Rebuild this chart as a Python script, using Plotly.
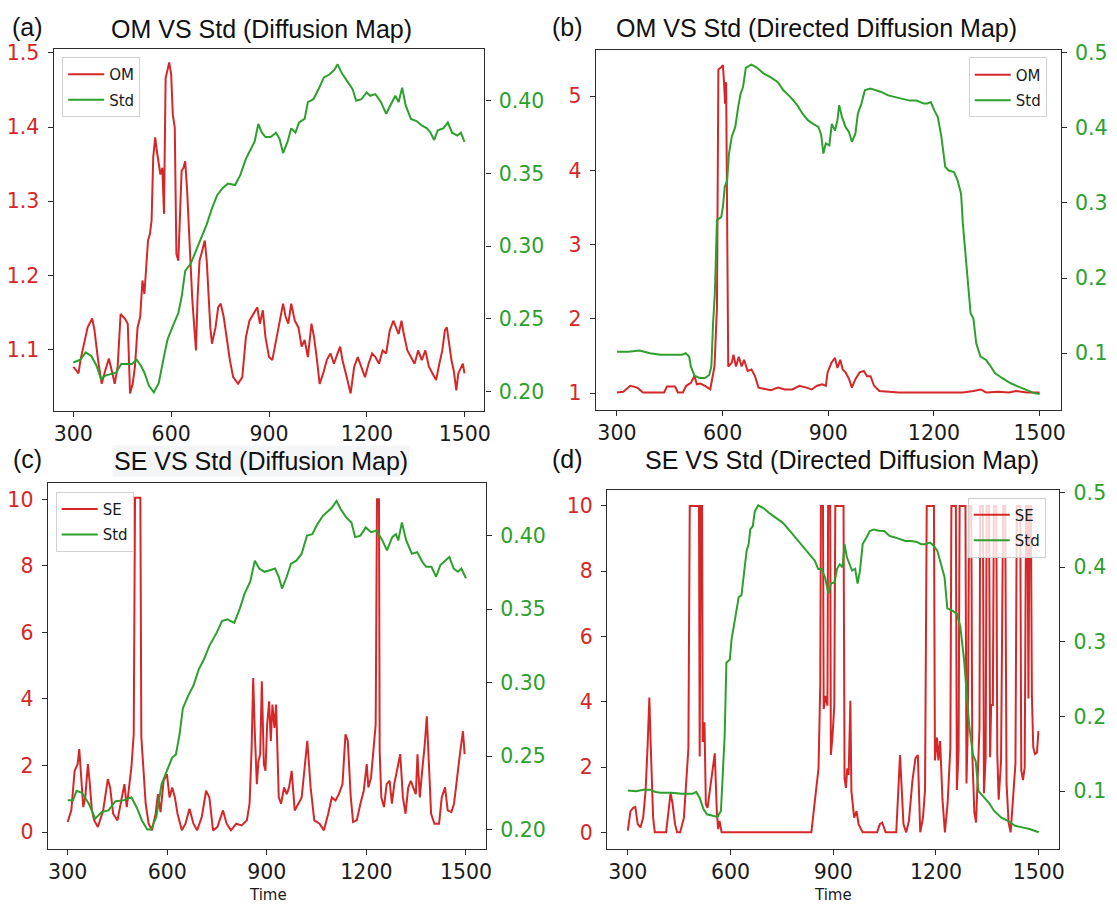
import plotly.graph_objects as go

# ---------------- data ----------------
# (a) OM vs Std, Diffusion Map
a_om_t = [300,316,322,344,358,365,376,387,398,409,420,427,436,445,458,467,474,482,489,497,505,512,518,523,529,535,540,545,551,556,562,567,573,578,583,589,594,600,605,611,616,622,627,632,638,643,649,654,660,665,671,676,681,687,695,703,709,714,720,725,736,744,752,761,769,780,790,805,818,829,840,853,864,872,881,889,900,910,921,932,943,951,959,968,979,990,1000,1009,1019,1030,1038,1047,1055,1066,1077,1088,1099,1110,1118,1125,1134,1143,1150,1161,1172,1183,1194,1205,1216,1226,1237,1248,1259,1270,1281,1289,1297,1306,1313,1324,1335,1346,1357,1368,1379,1390,1401,1412,1422,1431,1439,1445,1452,1459,1466,1474,1480,1488,1494,1499]
a_om = [1.077,1.068,1.086,1.13,1.142,1.126,1.086,1.054,1.072,1.088,1.068,1.054,1.077,1.148,1.142,1.135,1.041,1.054,1.077,1.13,1.144,1.193,1.175,1.207,1.247,1.256,1.274,1.359,1.386,1.368,1.35,1.336,1.345,1.283,1.466,1.478,1.487,1.471,1.417,1.399,1.229,1.22,1.283,1.341,1.345,1.354,1.314,1.274,1.211,1.166,1.13,1.099,1.171,1.22,1.233,1.247,1.22,1.175,1.13,1.108,1.13,1.157,1.162,1.144,1.117,1.086,1.063,1.054,1.063,1.117,1.139,1.148,1.157,1.135,1.153,1.117,1.09,1.086,1.113,1.139,1.162,1.144,1.135,1.162,1.139,1.13,1.104,1.113,1.09,1.135,1.117,1.086,1.054,1.068,1.086,1.095,1.081,1.095,1.104,1.086,1.068,1.054,1.041,1.077,1.09,1.077,1.063,1.081,1.095,1.09,1.081,1.099,1.095,1.126,1.139,1.13,1.121,1.139,1.121,1.099,1.09,1.081,1.099,1.086,1.099,1.077,1.068,1.059,1.081,1.099,1.126,1.13,1.108,1.086,1.072,1.045,1.068,1.077,1.081,1.068]
a_std_t = [300,322,338,355,371,385,398,414,431,447,464,480,494,507,518,532,547,562,576,589,605,622,632,643,660,676,692,709,725,741,758,774,796,812,829,845,856,867,878,889,905,921,932,943,957,968,981,992,1009,1019,1036,1052,1068,1085,1101,1110,1123,1139,1156,1167,1183,1199,1210,1226,1243,1259,1276,1287,1297,1308,1319,1335,1352,1368,1384,1395,1406,1417,1434,1448,1461,1477,1488,1499]
a_std = [0.22,0.222,0.227,0.2245,0.218,0.2086,0.211,0.212,0.213,0.219,0.219,0.219,0.222,0.218,0.213,0.204,0.1995,0.206,0.222,0.236,0.245,0.254,0.265,0.283,0.288,0.297,0.306,0.315,0.326,0.335,0.34,0.343,0.342,0.349,0.36,0.367,0.372,0.384,0.378,0.375,0.375,0.378,0.374,0.364,0.372,0.381,0.378,0.385,0.3875,0.399,0.401,0.408,0.416,0.418,0.4215,0.425,0.419,0.4136,0.408,0.40,0.401,0.4057,0.4034,0.4045,0.399,0.391,0.399,0.4034,0.399,0.409,0.3966,0.3875,0.386,0.383,0.381,0.378,0.373,0.3796,0.381,0.385,0.378,0.376,0.378,0.3717]

# (b) OM vs Std, Directed Diffusion Map
b_om_t = [300,318,338,358,374,394,414,434,442,465,473,487,497,510,520,527,537,550,565,570,577,584,588,596,601,604,607,610,612,616,626,631,638,646,654,661,671,682,692,702,717,737,757,777,798,818,838,853,868,883,893,898,909,919,926,934,941,949,959,967,977,989,1001,1010,1020,1030,1045,1065,1100,1151,1232,1282,1312,1333,1348,1383,1413,1433,1464,1500]
b_om = [1.01,1.02,1.1,1.075,1.01,1.01,1.01,1.01,1.09,1.09,1.01,1.01,1.1,1.14,1.23,1.12,1.13,1.1,1.053,1.19,1.36,2.16,5.36,5.39,5.42,5.19,4.9,5.19,3.28,1.36,1.41,1.52,1.36,1.49,1.36,1.45,1.3,1.32,1.23,1.075,1.06,1.04,1.075,1.05,1.05,1.1,1.075,1.05,1.1,1.12,1.1,1.28,1.41,1.475,1.34,1.45,1.32,1.28,1.19,1.075,1.19,1.28,1.3,1.23,1.23,1.1,1.03,1.02,1.01,1.01,1.01,1.01,1.03,1.05,1.01,1.02,1.01,1.03,1.01,1.01]
b_std_t = [300,333,364,394,424,454,485,495,505,510,520,535,550,562,568,573,578,584,596,601,606,613,618,626,636,644,651,658,666,682,697,717,737,757,772,792,812,827,842,857,872,880,886,893,903,910,919,926,931,939,949,959,967,977,984,994,1004,1020,1035,1050,1070,1090,1110,1131,1151,1171,1181,1191,1201,1211,1221,1232,1242,1257,1267,1277,1282,1290,1297,1304,1312,1320,1332,1348,1358,1373,1393,1418,1438,1464,1484,1500]
b_std = [0.102,0.102,0.1035,0.1,0.098,0.098,0.098,0.1,0.0956,0.082,0.07,0.067,0.067,0.071,0.082,0.14,0.18,0.277,0.281,0.295,0.321,0.33,0.365,0.388,0.401,0.427,0.445,0.454,0.48,0.484,0.48,0.472,0.467,0.4606,0.45,0.441,0.43,0.4186,0.41,0.405,0.401,0.39,0.3655,0.379,0.3765,0.405,0.396,0.41,0.43,0.414,0.401,0.394,0.381,0.392,0.4186,0.432,0.45,0.452,0.45,0.4475,0.443,0.441,0.4385,0.436,0.436,0.432,0.432,0.434,0.423,0.414,0.388,0.348,0.343,0.341,0.33,0.312,0.2726,0.228,0.197,0.153,0.146,0.113,0.0956,0.091,0.0845,0.0735,0.067,0.06,0.0558,0.0513,0.0469,0.0456]

# (c) SE vs Std, Diffusion Map
c_se_t = [300,311,321,330,335,340,347,353,361,366,373,380,391,407,421,428,437,450,463,471,478,485,492,499,503,519,522,528,535,544,554,565,572,580,589,599,607,615,623,631,644,655,667,679,690,704,717,727,738,751,768,779,792,808,824,840,848,854,859,864,870,875,880,885,891,896,901,907,912,917,923,928,936,943,952,960,967,975,984,995,1005,1014,1022,1032,1043,1059,1072,1085,1096,1107,1117,1128,1137,1144,1153,1160,1171,1182,1192,1201,1206,1214,1221,1228,1232,1238,1240,1245,1253,1261,1270,1277,1284,1294,1302,1310,1318,1326,1334,1341,1349,1354,1361,1368,1376,1382,1387,1395,1405,1419,1427,1437,1445,1456,1464,1475,1483,1491,1496]
c_se = [0.3,0.65,1.84,2.04,2.49,1.84,0.75,1.04,2.04,1.54,0.65,0.35,0.15,0.65,1.59,1.34,0.55,0.35,1.04,1.44,0.75,1.44,1.94,2.94,10.05,10.05,2.84,1.94,0.85,0.25,0.05,0.55,1.14,0.6,1.54,1.74,1.04,1.34,1.04,0.55,0.05,0.25,0.7,0.25,0.05,0.45,1.24,1.04,0.05,0.15,0.65,0.25,0.05,0.25,0.2,0.35,0.85,2.44,4.63,2.94,1.44,2.14,2.34,4.53,2.04,1.84,3.23,3.93,2.74,3.83,3.13,3.83,1.04,0.85,1.34,1.14,1.34,1.84,0.65,0.85,1.04,1.94,2.74,1.34,0.35,0.25,0.05,0.55,1.04,0.95,1.14,1.44,2.94,2.74,1.04,0.3,0.35,0.85,1.24,2.04,1.34,1.64,2.44,3.23,10.0,10.0,2.44,1.04,0.75,1.44,1.54,0.85,1.44,1.94,2.34,1.04,0.55,1.34,1.54,1.34,1.14,2.34,1.04,1.84,2.64,3.48,2.24,0.55,0.25,0.25,1.04,1.34,0.65,0.6,0.85,1.84,2.44,3.03,2.34]
c_std_t = [300,316,327,343,364,383,402,423,444,466,492,508,524,540,551,567,583,599,615,626,637,647,663,679,695,711,727,749,765,781,802,818,834,850,864,877,893,909,925,936,946,960,973,989,1005,1021,1037,1053,1069,1085,1096,1110,1123,1139,1155,1166,1182,1198,1214,1230,1246,1262,1278,1289,1296,1307,1320,1337,1353,1369,1380,1396,1410,1423,1439,1450,1463,1476,1486,1500]
c_std = [0.22,0.22,0.2264,0.225,0.2175,0.2074,0.2119,0.213,0.2193,0.2197,0.222,0.215,0.206,0.2,0.2,0.2085,0.231,0.24,0.249,0.251,0.2645,0.2824,0.291,0.298,0.309,0.316,0.325,0.334,0.3418,0.343,0.3407,0.35,0.361,0.3687,0.383,0.3776,0.3754,0.3765,0.3776,0.372,0.364,0.372,0.381,0.383,0.3877,0.4,0.401,0.408,0.4135,0.4168,0.419,0.4236,0.418,0.4124,0.409,0.399,0.4,0.4056,0.4023,0.4034,0.3978,0.39,0.399,0.401,0.3967,0.409,0.3967,0.3877,0.3888,0.382,0.3788,0.3788,0.372,0.38,0.383,0.3855,0.3776,0.3754,0.3776,0.371]

# (d) SE vs Std, Directed Diffusion Map
d_se_t = [300,308,316,322,329,337,345,352,358,363,367,374,379,412,419,425,431,438,444,453,464,471,477,481,508,510,513,517,519,524,528,533,541,548,554,560,564,568,574,836,847,857,862,864,870,872,878,883,885,891,893,898,903,906,930,933,937,941,945,950,953,961,968,974,986,1028,1036,1043,1053,1084,1095,1105,1113,1121,1131,1140,1147,1154,1162,1168,1173,1194,1197,1203,1207,1212,1219,1226,1234,1242,1245,1258,1261,1266,1269,1286,1289,1293,1297,1303,1306,1312,1317,1323,1327,1329,1337,1340,1345,1348,1355,1358,1361,1366,1369,1376,1379,1383,1390,1396,1402,1406,1412,1418,1425,1432,1436,1446,1449,1454,1459,1463,1467,1470,1473,1477,1480,1484,1489,1495,1499]
d_se = [0.05,0.65,0.75,0.78,0.25,0.15,0.45,1.26,2.67,4.13,2.67,0.45,0,0,0.65,1.21,0.86,0.25,0,0,0.45,1.56,2.57,10,10,2.32,10,10,2.77,3.37,0.86,0.75,1.46,2.06,2.42,0.65,0.1,0.35,0,0,0.96,1.96,4.48,10,10,3.78,4.18,3.88,10,10,2.37,2.97,3.88,10,10,1.66,1.36,1.96,1.76,4.03,1.26,0.45,0.65,0.25,0,0,0.25,0.3,0,0,2.37,0.25,0,0.35,1.56,2.27,2.37,0,0.45,1.3,10,10,2.2,2.9,2.2,2.8,1.0,0,0.9,2.6,10,10,1.3,2.5,10,10,1.5,3.3,10,10,2.4,0.6,0.3,2.0,3.2,10,10,1.2,2.3,10,10,2.3,3.9,3.9,10,10,2.4,1.0,2.2,10,10,1.5,0.3,0,1.2,2.1,10,10,1.9,1.6,2.0,10,10,4.1,10,10,4.2,2.6,2.4,2.45,3.1]
d_std_t = [300,324,345,365,381,396,427,458,489,500,510,521,531,546,562,572,577,583,588,598,603,609,617,624,632,640,647,653,658,665,671,681,697,712,733,753,774,789,810,830,846,856,866,876,886,893,904,911,919,927,933,940,947,955,964,971,978,986,997,1007,1018,1033,1049,1064,1080,1095,1111,1126,1142,1157,1168,1183,1194,1204,1214,1225,1233,1245,1261,1271,1282,1289,1297,1308,1316,1324,1340,1354,1370,1390,1411,1431,1452,1473,1500]
d_std = [0.101,0.1,0.102,0.102,0.099,0.098,0.098,0.0965,0.0965,0.099,0.091,0.076,0.069,0.067,0.0656,0.0735,0.126,0.175,0.272,0.2764,0.303,0.32,0.338,0.36,0.3625,0.3955,0.422,0.431,0.451,0.455,0.475,0.483,0.479,0.473,0.466,0.4595,0.4485,0.44,0.4286,0.4176,0.4088,0.3978,0.3978,0.3867,0.3647,0.378,0.38,0.398,0.404,0.4,0.431,0.413,0.404,0.3955,0.398,0.378,0.3955,0.431,0.44,0.4485,0.4507,0.449,0.4485,0.442,0.44,0.4375,0.4353,0.4353,0.4343,0.431,0.431,0.433,0.4286,0.422,0.404,0.3867,0.345,0.3426,0.338,0.3205,0.2764,0.232,0.188,0.1485,0.14,0.1,0.091,0.0846,0.0735,0.0647,0.06,0.0537,0.0515,0.0493,0.045]

x_ticks = [300, 600, 900, 1200, 1500]
a_left_ticks = [1.1, 1.2, 1.3, 1.4, 1.5]
std_ticks_fine = [0.20, 0.25, 0.30, 0.35, 0.40]
b_left_ticks = [1, 2, 3, 4, 5]
std_ticks_coarse = [0.1, 0.2, 0.3, 0.4, 0.5]
se_ticks = [0, 2, 4, 6, 8, 10]

panel_letters = ["(a)", "(b)", "(c)", "(d)"]
panel_titles = ["OM VS Std (Diffusion Map)", "OM VS Std (Directed Diffusion Map)",
                "SE VS Std (Diffusion Map)", "SE VS Std (Directed Diffusion Map)"]

# ---------------- styling ----------------
W, H = 1117, 907
RED = "#d62728"
GREEN = "#2ca02c"
SPINE = "#2b2b2b"
TICKFONT = "DejaVu Sans"
TICKSIZE = 20.5

def px(x):
    return x / W

def py(y):
    return 1 - y / H

fig = go.Figure()

panels = [
    dict(box=(54, 487, 39.5, 405), lr=[1.018, 1.505], rr=[0.187, 0.4355],
         lt=a_left_ticks, lf=".1f", rt=std_ticks_fine, rf=".2f"),
    dict(box=(599, 1066.5, 40.7, 404), lr=[0.78, 5.62], rr=[0.025, 0.503],
         lt=b_left_ticks, lf="d", rt=std_ticks_coarse, rf=".1f"),
    dict(box=(48, 488.5, 478, 848), lr=[-0.5, 10.5], rr=[0.187, 0.436],
         lt=se_ticks, lf="d", rt=std_ticks_fine, rf=".2f"),
    dict(box=(610.5, 1065, 485, 848), lr=[-0.5, 10.5], rr=[0.023, 0.504],
         lt=se_ticks, lf="d", rt=std_ticks_coarse, rf=".1f"),
]

series = [
    (a_om_t, a_om, "OM", a_std_t, a_std),
    (b_om_t, b_om, "OM", b_std_t, b_std),
    (c_se_t, c_se, "SE", c_std_t, c_std),
    (d_se_t, d_se, "SE", d_std_t, d_std),
]

legend_pos = [(62.5, 47.5), (974, 48), (56, 487), (973, 493)]

layout = {}
for i, (p, s) in enumerate(zip(panels, series)):
    k = i + 1
    xa = "x" if k == 1 else f"x{k}"
    yl_id = 2 * i + 1
    yr_id = 2 * i + 2
    yl = "y" if yl_id == 1 else f"y{yl_id}"
    yr = f"y{yr_id}"
    leg = "legend" if k == 1 else f"legend{k}"
    x0, x1, yt, yb = p["box"]

    fig.add_trace(go.Scatter(x=s[0], y=s[1], mode="lines", name=s[2],
                             line=dict(color=RED, width=2), xaxis=xa, yaxis=yl,
                             legend=leg, legendgroup=f"g{k}a", showlegend=True))
    fig.add_trace(go.Scatter(x=s[3], y=s[4], mode="lines", name="Std",
                             line=dict(color=GREEN, width=2), xaxis=xa, yaxis=yr,
                             legend=leg, legendgroup=f"g{k}b", showlegend=True))

    xkey = "xaxis" if k == 1 else f"xaxis{k}"
    ylkey = "yaxis" if yl_id == 1 else f"yaxis{yl_id}"
    yrkey = f"yaxis{yr_id}"

    layout[xkey] = dict(domain=[px(x0), px(x1)], range=[240, 1560], anchor=yl,
                        showline=True, linecolor=SPINE, linewidth=1.4, mirror=True,
                        ticks="outside", ticklen=5, tickwidth=1.3, tickcolor=SPINE,
                        tickmode="array", tickvals=x_ticks,
                        ticktext=[str(v) for v in x_ticks],
                        tickfont=dict(family=TICKFONT, size=TICKSIZE, color="#1a1a1a"),
                        ticklabelstandoff=0,
                        showgrid=False, zeroline=False)
    layout[ylkey] = dict(domain=[py(yb), py(yt)], range=p["lr"], anchor=xa,
                         showline=True, linecolor=SPINE, linewidth=1.4,
                         ticks="outside", ticklen=5, tickwidth=1.3, tickcolor=SPINE,
                         tickmode="array", tickvals=p["lt"],
                         ticktext=[format(v, p["lf"]) for v in p["lt"]],
                         tickfont=dict(family=TICKFONT, size=TICKSIZE, color=RED),
                         ticklabelstandoff=4,
                         showgrid=False, zeroline=False)
    layout[yrkey] = dict(domain=[py(yb), py(yt)], range=p["rr"], anchor=xa,
                         overlaying=yl, side="right",
                         showline=True, linecolor=SPINE, linewidth=1.4,
                         ticks="outside", ticklen=5, tickwidth=1.3, tickcolor=SPINE,
                         tickmode="array", tickvals=p["rt"],
                         ticktext=[format(v, p["rf"]) for v in p["rt"]],
                         tickfont=dict(family=TICKFONT, size=TICKSIZE, color=GREEN),
                         ticklabelstandoff=4,
                         showgrid=False, zeroline=False)
    lx, ly = legend_pos[i]
    layout[leg] = dict(x=px(lx), y=py(ly), xanchor="left", yanchor="top",
                       xref="paper", yref="paper",
                       bgcolor="rgba(255,255,255,0.8)", bordercolor="#d0d0d0",
                       borderwidth=1, tracegroupgap=3, itemwidth=36,
                       font=dict(family=TICKFONT, size=15, color="#1a1a1a"))

annotations = []
letter_pos = [(28, 17), (571, 17), (28, 454), (571, 454)]
title_pos = [(263, 19), (821, 18), (262.5, 456), (846.5, 455)]
for i in range(4):
    lx, ly = letter_pos[i]
    annotations.append(dict(text=panel_letters[i], x=px(lx), y=py(ly), xref="paper", yref="paper",
                            xanchor="center", yanchor="middle", showarrow=False,
                            font=dict(family="Liberation Sans", size=25, color="#111")))
    tx, ty = title_pos[i]
    ann = dict(text=panel_titles[i], x=px(tx), y=py(ty), xref="paper", yref="paper",
               xanchor="center", yanchor="middle", showarrow=False,
               font=dict(family="Liberation Sans", size=25, color="#111"))
    if i == 2:
        ann["bgcolor"] = "#f3f5f7"
        ann["borderpad"] = 1
    annotations.append(ann)

for (tx, ty) in [(269, 895), (837, 895)]:
    annotations.append(dict(text="Time", x=px(tx), y=py(ty), xref="paper", yref="paper",
                            xanchor="center", yanchor="middle", showarrow=False,
                            font=dict(family=TICKFONT, size=15, color="#1a1a1a")))

fig.update_layout(width=W, height=H, margin=dict(l=0, r=0, t=0, b=0),
                  paper_bgcolor="white", plot_bgcolor="white",
                  annotations=annotations, **layout)

fig.write_html("out.html", config={"displayModeBar": False},
               post_script="document.body.style.margin='0';document.body.style.overflow='hidden';")
